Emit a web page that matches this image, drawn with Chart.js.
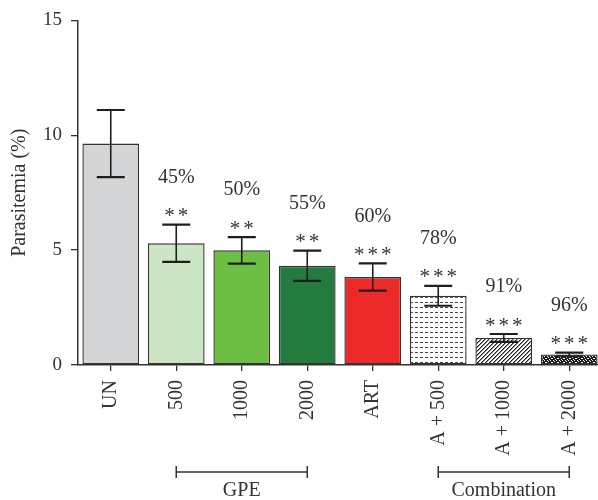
<!DOCTYPE html>
<html><head><meta charset="utf-8">
<script src="https://cdn.jsdelivr.net/npm/chart.js@4"></script>
<style>
html,body{margin:0;padding:0;overflow:hidden;background:#fff;width:598px;height:500px}
#wrap{position:relative;width:602px;height:500px}
canvas{display:block}
</style></head>
<body><div id="wrap"><canvas id="c" width="602" height="500" style="width:602px;height:500px"></canvas></div>
<script>
const categories = ['UN', '500', '1000', '2000', 'ART', 'A + 500', 'A + 1000', 'A + 2000'];
const parasitemia = [9.64, 5.30, 4.99, 4.32, 3.83, 3.01, 1.18, 0.46];
const sem = [1.46, 0.81, 0.58, 0.66, 0.59, 0.43, 0.17, 0.08];
const inhibition = ['', '45%', '50%', '55%', '60%', '78%', '91%', '96%'];
const significance = ['', '**', '**', '**', '***', '***', '***', '***'];
const groupLabels = ['GPE', 'Combination'];
const groupFrom = [1, 5];
const groupTo = [3, 7];
const yTicks = [0, 5, 10, 15];

const FONT = '"Liberation Serif", "Times New Roman", serif';
const INK = '#333333';
const canvas = document.getElementById('c');
const ctx = canvas.getContext('2d');

function makePattern(w, h, paint) {
  const t = document.createElement('canvas');
  t.width = w; t.height = h;
  const g = t.getContext('2d');
  g.fillStyle = '#ffffff'; g.fillRect(0, 0, w, h);
  paint(g);
  return ctx.createPattern(t, 'repeat');
}
const dotted = makePattern(5, 5, g => { g.fillStyle = '#444'; g.fillRect(0, 2, 3, 1); });
const hatch = makePattern(4, 4, g => {
  for (let x = 0; x < 4; x++) for (let y = 0; y < 4; y++) {
    const k = (x + y) % 4;
    if (k === 3) { g.fillStyle = '#1e1e1e'; g.fillRect(x, y, 1, 1); }
    else if (k === 0) { g.fillStyle = '#8a8a8a'; g.fillRect(x, y, 1, 1); }
  }
});
const speckle = makePattern(6, 4, g => {
  const m = ['101101', '110111', '011110', '111011'];
  g.fillStyle = '#1a1a1a';
  m.forEach((row, y) => [...row].forEach((c, x) => { if (c === '1') g.fillRect(x, y, 1, 1); }));
});
const fills = ['#d4d5d7', '#cce5c4', '#6dbe45', '#237b3e', '#ec2a2a', dotted, hatch, speckle];

const overlay = {
  id: 'overlay',
  afterDatasetsDraw(chart) {
    const c = chart.ctx, xs = chart.scales.x, ys = chart.scales.y, ca = chart.chartArea;
    c.save();
    c.strokeStyle = '#1e1e1e';
    parasitemia.forEach((v, i) => {
      const x = xs.getPixelForValue(i);
      const yt = ys.getPixelForValue(v + sem[i]);
      const yb = ys.getPixelForValue(v - sem[i]);
      c.lineWidth = 1.6;
      c.beginPath(); c.moveTo(x, yt); c.lineTo(x, yb); c.stroke();
      c.lineWidth = 2.2;
      c.beginPath(); c.moveTo(x - 14, yt); c.lineTo(x + 14, yt); c.moveTo(x - 14, yb); c.lineTo(x + 14, yb); c.stroke();
      c.fillStyle = INK;
      c.textAlign = 'center'; c.textBaseline = 'middle';
      if (significance[i]) {
        c.font = '21px ' + FONT;
        c.letterSpacing = '3px';
        c.fillText(significance[i], x + 1.5, yt - 8);
        c.letterSpacing = '0px';
      }
      if (inhibition[i]) { c.font = '20px ' + FONT; c.fillText(inhibition[i], x, yt - 47); }
    });
    // group brackets
    const by = ca.bottom + 107;
    c.strokeStyle = INK; c.lineWidth = 1.5;
    groupLabels.forEach((lab, k) => {
      const x1 = xs.getPixelForValue(groupFrom[k]), x2 = xs.getPixelForValue(groupTo[k]);
      c.beginPath();
      c.moveTo(x1, by); c.lineTo(x2, by);
      c.moveTo(x1, by - 6); c.lineTo(x1, by + 6);
      c.moveTo(x2, by - 6); c.lineTo(x2, by + 6);
      c.stroke();
      c.font = '20px ' + FONT; c.fillStyle = INK;
      c.textAlign = 'center'; c.textBaseline = 'middle';
      c.fillText(lab, (x1 + x2) / 2, by + 19);
    });
    c.restore();
  }
};

new Chart(ctx, {
  type: 'bar',
  data: {
    labels: categories,
    datasets: [{
      data: parasitemia,
      backgroundColor: fills,
      borderColor: '#333333',
      borderWidth: 1.4,
      borderSkipped: false,
      barPercentage: 0.866,
      categoryPercentage: 1.0
    }]
  },
  options: {
    responsive: false,
    animation: false,
    devicePixelRatio: 1,
    layout: { padding: { top: 18, right: 0, left: 0, bottom: 0 } },
    plugins: { legend: { display: false }, tooltip: { enabled: false } },
    scales: {
      x: {
        grid: { display: true, offset: false, drawOnChartArea: false, drawTicks: true, tickLength: 6, color: INK, lineWidth: 1.3 },
        border: { display: true, color: INK, width: 1.5 },
        ticks: { minRotation: 90, maxRotation: 90, autoSkip: false, padding: 9, color: INK, font: { family: FONT, size: 20 } },
        afterFit(s) { s.height = 135; s.paddingLeft = 0; s.paddingRight = 0; }
      },
      y: {
        min: 0, max: 15,
        afterBuildTicks(s) { s.ticks = yTicks.map(v => ({ value: v })); },
        grid: { display: true, drawOnChartArea: false, drawTicks: true, tickLength: 7, color: INK, lineWidth: 1.3 },
        border: { display: true, color: INK, width: 1.5 },
        ticks: { padding: 9, color: INK, font: { family: FONT, size: 19 } },
        title: { display: true, text: 'Parasitemia (%)', color: INK, font: { family: FONT, size: 20 }, padding: { top: 8, bottom: 0 } },
        afterFit(s) { s.width = 78; }
      }
    }
  },
  plugins: [overlay]
});
</script>
</body></html>
